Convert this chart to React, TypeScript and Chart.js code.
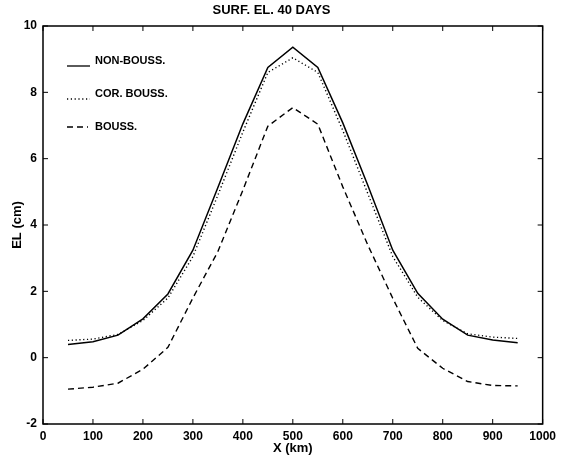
import React, { useEffect, useRef } from "react";
import { Chart, registerables } from "chart.js";

Chart.register(...registerables);

const xValues = [50, 100, 150, 200, 250, 300, 350, 400, 450, 500, 550, 600, 650, 700, 750, 800, 850, 900, 950];
const nonBouss = [0.40, 0.48, 0.68, 1.17, 1.92, 3.24, 5.13, 7.05, 8.75, 9.36, 8.75, 7.08, 5.2, 3.24, 1.94, 1.16, 0.68, 0.53, 0.45];
const corBouss = [0.52, 0.56, 0.70, 1.12, 1.80, 3.05, 4.9, 6.8, 8.6, 9.04, 8.6, 6.85, 4.95, 3.05, 1.82, 1.12, 0.72, 0.62, 0.58];
const bouss = [-0.95, -0.89, -0.77, -0.35, 0.31, 1.8, 3.2, 5.05, 6.98, 7.54, 7.04, 5.15, 3.4, 1.79, 0.28, -0.32, -0.72, -0.84, -0.85];

const seriesNames = ["NON-BOUSS.", "COR. BOUSS.", "BOUSS."];
const titleText = "SURF. EL. 40 DAYS";
const xTitle = "X (km)";
const yTitle = "EL (cm)";
const xTicks = [0, 100, 200, 300, 400, 500, 600, 700, 800, 900, 1000];
const yTicks = [-2, 0, 2, 4, 6, 8, 10];

const FONT = "'Liberation Sans', Arial, Helvetica, sans-serif";
const dashes = [[], [1.2, 2.6], [6, 4]];

const framePlugin = {
  id: "frame",
  afterDraw(chart: any) {
    const { ctx, chartArea: a, scales } = chart;
    ctx.save();
    ctx.strokeStyle = "#000";
    ctx.lineWidth = 1.5;
    ctx.setLineDash([]);
    ctx.strokeRect(a.left, a.top, a.right - a.left, a.bottom - a.top);
    ctx.lineWidth = 1;
    const tl = 5;
    ctx.beginPath();
    xTicks.forEach((v) => {
      const px = scales.x.getPixelForValue(v);
      ctx.moveTo(px, a.bottom);
      ctx.lineTo(px, a.bottom - tl);
      ctx.moveTo(px, a.top);
      ctx.lineTo(px, a.top + tl);
    });
    yTicks.forEach((v) => {
      const py = scales.y.getPixelForValue(v);
      ctx.moveTo(a.left, py);
      ctx.lineTo(a.left + tl, py);
      ctx.moveTo(a.right, py);
      ctx.lineTo(a.right - tl, py);
    });
    ctx.stroke();

    // legend
    const rows = [61, 94, 127];
    const sampleY = [66, 99, 127];
    ctx.font = "bold 11px " + FONT;
    ctx.fillStyle = "#000";
    ctx.textBaseline = "middle";
    ctx.textAlign = "left";
    seriesNames.forEach((name, i) => {
      ctx.beginPath();
      ctx.lineWidth = 1.3;
      ctx.setLineDash(dashes[i]);
      ctx.moveTo(67, sampleY[i]);
      ctx.lineTo(i === 2 ? 88 : 90, sampleY[i]);
      ctx.stroke();
      ctx.setLineDash([]);
      ctx.fillText(name, 95, rows[i]);
    });
    ctx.restore();
  },
};

export default function App() {
  const ref = useRef<HTMLCanvasElement | null>(null);
  useEffect(() => {
    document.body.style.margin = "0";
    const canvas = ref.current!;
    const mk = (vals: number[]) => xValues.map((x, i) => ({ x, y: vals[i] }));
    const chart = new Chart(canvas, {
      type: "line",
      data: {
        datasets: [nonBouss, corBouss, bouss].map((vals, i) => ({
          label: seriesNames[i],
          data: mk(vals),
          borderColor: "#000",
          borderWidth: i === 0 ? 1.5 : 1.4,
          borderDash: dashes[i],
          pointRadius: 0,
          fill: false,
          tension: 0,
        })),
      },
      options: {
        responsive: false,
        animation: false,
        layout: { padding: { left: 0, right: 18, top: 0, bottom: 0 } },
        plugins: {
          legend: { display: false },
          tooltip: { enabled: false },
          title: {
            display: true,
            text: titleText,
            color: "#000",
            font: { family: FONT, size: 13, weight: "bold", lineHeight: 1.2 },
            padding: { top: 3, bottom: 7.4 },
          },
        },
        scales: {
          x: {
            type: "linear",
            min: 0,
            max: 1000,
            afterFit: (s: any) => { s.height = 36; },
            afterBuildTicks: (s: any) => { s.ticks = xTicks.map((v) => ({ value: v })); },
            ticks: { color: "#000", padding: 5, maxRotation: 0, autoSkip: false, font: { family: FONT, size: 12, weight: "bold" }, callback: (v: any) => String(v) },
            grid: { display: false, drawTicks: false },
            border: { display: false },
            title: { display: true, text: xTitle, color: "#000", font: { family: FONT, size: 13, weight: "bold" }, padding: { top: 0, bottom: 4 } },
          },
          y: {
            type: "linear",
            min: -2,
            max: 10,
            afterFit: (s: any) => { s.width = 43; },
            afterBuildTicks: (s: any) => { s.ticks = yTicks.map((v) => ({ value: v })); },
            ticks: { color: "#000", padding: 6, autoSkip: false, font: { family: FONT, size: 12, weight: "bold" }, callback: (v: any) => String(v) },
            grid: { display: false, drawTicks: false },
            border: { display: false },
            title: { display: true, text: yTitle, color: "#000", font: { family: FONT, size: 13, weight: "bold" }, padding: { top: 10, bottom: 0 } },
          },
        },
      },
      plugins: [framePlugin],
    } as any);
    return () => chart.destroy();
  }, []);
  return <canvas ref={ref} width={561} height={460} style={{ display: "block" }} />;
}
